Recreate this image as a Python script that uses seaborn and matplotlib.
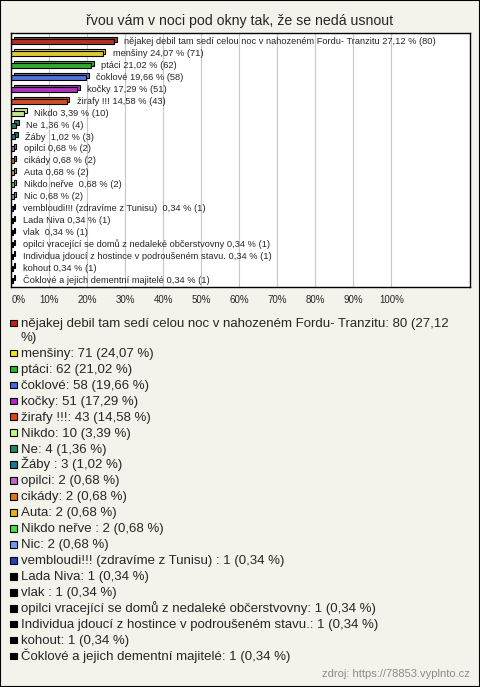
import textwrap
import matplotlib
matplotlib.use("Agg")
import matplotlib.pyplot as plt
import matplotlib.transforms as mtransforms
from matplotlib.patches import Rectangle
import seaborn as sns
import pandas as pd

# data
names = [
    "nějakej debil tam sedí celou noc v nahozeném Fordu- Tranzitu",
    "menšiny", "ptáci", "čoklové", "kočky", "žirafy !!!", "Nikdo", "Ne",
    "Žáby ", "opilci", "cikády", "Auta", "Nikdo neřve ", "Nic",
    "vembloudi!!! (zdravíme z Tunisu) ", "Lada Niva", "vlak ",
    "opilci vracející se domů z nedaleké občerstvovny",
    "Individua jdoucí z hostince v podroušeném stavu.",
    "kohout", "Čoklové a jejich dementní majitelé",
]
counts = [80, 71, 62, 58, 51, 43, 10, 4, 3, 2, 2, 2, 2, 2, 1, 1, 1, 1, 1, 1, 1]
percents = [27.12, 24.07, 21.02, 19.66, 17.29, 14.58, 3.39, 1.36, 1.02, 0.68,
            0.68, 0.68, 0.68, 0.68, 0.34, 0.34, 0.34, 0.34, 0.34, 0.34, 0.34]
colors = ["#C4230F", "#F7E21A", "#1DBE1D", "#4068E8", "#BB22CC", "#E3420F",
          "#C2F77E", "#1A8C5C", "#1A7890", "#C462C8", "#E27412", "#E8B214",
          "#46E046", "#6C9CE8", "#2240C0", "#000000", "#000000", "#000000",
          "#000000", "#000000", "#000000"]
title = "řvou vám v noci pod okny tak, že se nedá usnout"
source = "zdroj: https://78853.vyplnto.cz"

df = pd.DataFrame({"name": names, "count": counts, "pct": percents})

def fmt(v):
    return f"{v:.2f}".replace(".", ",")

sns.set_style("white")
plt.rcParams["font.family"] = ["Liberation Sans", "DejaVu Sans"]

bg = "#F4F3EB"
W, H = 480, 687
fig = plt.figure(figsize=(W / 100, H / 100), dpi=100, facecolor=bg)
fig.patches.append(Rectangle((0, 0), 1, 1, transform=fig.transFigure,
                             facecolor="none", edgecolor="black", lw=1.5))

fig.text(0.5, 1 - 20.5 / H, title, ha="center", va="center", fontsize=10.2)

left, right, top, bottom = 11.3, 470, 33.3, 286.7
ax = fig.add_axes([left / W, 1 - bottom / H, (right - left) / W, (bottom - top) / H])
ax.set_facecolor("white")

sns.barplot(data=df, x="pct", y="name", hue="name", order=names, hue_order=names,
            palette=colors, orient="h", width=0.42, edgecolor="black",
            linewidth=0.8, legend=False, ax=ax)

# 3d look: shifted copy behind each bar
back = mtransforms.offset_copy(ax.transData, fig=fig, x=2.6, y=2.2, units="dots")
for p in list(ax.patches):
    ax.add_patch(Rectangle(p.get_xy(), p.get_width(), p.get_height(), transform=back,
                           facecolor=p.get_facecolor(), edgecolor="black", lw=0.8,
                           zorder=p.get_zorder() - 0.1))

for i, (n, c, v) in enumerate(zip(names, counts, percents)):
    ax.annotate(f"{n} {fmt(v)} % ({c})", xy=(v, i), xytext=(7.2, 0),
                textcoords="offset points", va="center", ha="left", fontsize=6.7)

ax.set_xlim(0, (right - left) / 3.8)
ax.set_ylim(len(names) - 0.44, -0.7)
ax.set_xticks(range(0, 101, 10))
ax.set_xticklabels([f"{t}%" for t in range(0, 101, 10)], fontsize=7)
ax.get_xticklabels()[0].set_horizontalalignment("left")
ax.tick_params(axis="x", length=0, pad=6)
ax.set_yticks([])
ax.set_xlabel("")
ax.set_ylabel("")
ax.grid(axis="x", color="#C8C8C8", lw=0.8)
ax.set_axisbelow(True)
for s in ax.spines.values():
    s.set_color("black")
    s.set_linewidth(1)

# legend below chart
y = 323
for n, c, v, col in zip(names, counts, percents, colors):
    lines = textwrap.wrap(f"{n}: {c} ({fmt(v)} %)", width=72)
    fig.patches.append(Rectangle((10 / W, 1 - (y + 3.2) / H), 6.5 / W, 6.5 / H,
                                 transform=fig.transFigure, facecolor=col,
                                 edgecolor="black", lw=0.8))
    for k, line in enumerate(lines):
        fig.text(20.7 / W, 1 - (y + 3.8 + 14 * k) / H, line, ha="left",
                 va="baseline", fontsize=9.5)
    y += 14 * (len(lines) - 1) + 15.96

fig.text(470 / W, 1 - 674 / H, source, ha="right", va="center", fontsize=8,
         color="#8A8A8A")

fig.savefig("out.png", dpi=100, facecolor=bg)
